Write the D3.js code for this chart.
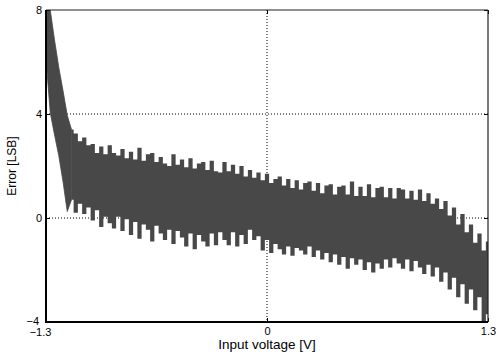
<!DOCTYPE html>
<html>
<head>
<meta charset="utf-8">
<script src="https://cdn.jsdelivr.net/npm/d3@7"></script>
<style>
  body { margin: 0; background: #fff; }
  svg { display: block; font-family: "Liberation Sans", Arial, Helvetica, sans-serif; }
</style>
</head>
<body>
<div id="chart"></div>
<script>
// sample grid of the input voltage sweep [V]
const vStart = -1.3;
const vStep = 0.025;

// upper edge of the error band [LSB]
const upper = [
  8.3, 8.0, 6.85, 5.8, 4.9, 3.95, 3.4, 3.25, 2.95, 3.1,
  2.8, 2.85, 2.5, 2.75, 2.45, 2.8, 2.5, 2.4, 2.65, 2.3,
  2.55, 2.25, 2.7, 2.2, 2.45, 2.5, 2.15, 2.35, 2.1, 2.0,
  2.45, 2.05, 2.25, 1.95, 2.3, 1.9, 2.1, 2.15, 1.85, 2.2,
  1.8, 1.75, 2.15, 1.8, 2.05, 1.7, 2.0, 1.6, 1.85, 1.55,
  1.75, 1.45, 1.7, 1.35, 1.5, 1.6, 1.25, 1.5, 1.15, 1.45,
  1.1, 1.35, 1.4, 1.05, 1.35, 0.95, 1.25, 1.3, 0.9, 1.2,
  1.25, 0.9, 1.4, 0.85, 1.2, 0.85, 1.3, 0.8, 1.15, 1.2,
  0.8, 1.15, 0.75, 1.15, 1.1, 0.75, 1.05, 0.7, 1.1, 0.65,
  0.95, 0.55, 0.75, 0.35, 0.65, 0.1, 0.4, -0.25, 0.15, -0.55,
  -0.25, -0.95, -0.6, -1.25, -0.9
];

// lower edge of the error band [LSB]
const lower = [
  6.1, 4.05, 3.2, 2.4, 1.4, 0.25, 0.7, 0.2, 0.55, 0.15,
  0.4, -0.1, 0.3, -0.35, 0.05, -0.2, -0.4, 0.05, -0.5, -0.05,
  -0.65, -0.15, -0.8, -0.25, -0.45, -0.9, -0.3, -0.6, -0.85, -0.45,
  -1.0, -0.5, -0.75, -1.1, -0.6, -1.2, -0.65, -0.9, -1.1, -0.6,
  -1.05, -0.55, -0.85, -1.05, -0.55, -1.1, -0.65, -1.0, -0.45, -0.85,
  -0.7, -1.25, -0.85, -1.35, -1.0, -1.2, -1.4, -1.1, -1.45, -1.15,
  -1.25, -1.4, -1.1, -1.5, -1.25, -1.6, -1.35, -1.7, -1.4, -1.8,
  -1.5, -1.95, -1.55, -1.8, -1.6, -2.0, -1.7, -2.1, -1.75, -1.95,
  -1.6, -1.9, -1.55, -1.75, -1.95, -1.6, -2.05, -1.65, -1.9, -2.15,
  -1.8, -2.25, -1.9, -2.45, -2.1, -2.75, -2.3, -3.05, -2.55, -3.3,
  -2.75, -3.55, -3.05, -4.0, -3.7
];

// the steep start of the sweep is drawn smooth, the rest as dense strokes
const steepCount = 7;

const xTicks = [-1.3, 0, 1.3];
const yTicks = [-4, 0, 4, 8];
const gridX = [0];
const gridY = [0, 4];

const width = 499;
const height = 356;
const margin = { top: 10, right: 11, bottom: 34, left: 46 };

const data = upper.map((u, i) => ({ v: vStart + i * vStep, hi: u, lo: lower[i] }));

const x = d3.scaleLinear().domain([-1.3, 1.3]).range([margin.left, width - margin.right]);
const y = d3.scaleLinear().domain([-4, 8]).range([height - margin.bottom, margin.top]);

const svg = d3.select('#chart').append('svg')
  .attr('width', width)
  .attr('height', height);

svg.append('defs').append('clipPath')
  .attr('id', 'plot')
  .append('rect')
  .attr('x', x(-1.3))
  .attr('y', y(8))
  .attr('width', x(1.3) - x(-1.3))
  .attr('height', y(-4) - y(8));

// dotted grid
svg.append('g').selectAll('line.gy')
  .data(gridY).join('line')
  .attr('x1', x(-1.3)).attr('x2', x(1.3))
  .attr('y1', d => y(d)).attr('y2', d => y(d))
  .attr('stroke', '#000').attr('stroke-width', 1)
  .attr('stroke-dasharray', '1,2');

svg.append('g').selectAll('line.gx')
  .data(gridX).join('line')
  .attr('x1', d => x(d)).attr('x2', d => x(d))
  .attr('y1', y(8)).attr('y2', y(-4))
  .attr('stroke', '#000').attr('stroke-width', 1)
  .attr('stroke-dasharray', '1,2');

// error band
const band = svg.append('g').attr('clip-path', 'url(#plot)');

const smoothArea = d3.area()
  .x(d => x(d.v))
  .y0(d => y(d.lo))
  .y1(d => y(d.hi));

const stepArea = d3.area()
  .curve(d3.curveStep)
  .x(d => x(d.v))
  .y0(d => y(d.lo))
  .y1(d => y(d.hi));

band.append('path')
  .datum(data.slice(0, steepCount))
  .attr('fill', '#484848')
  .attr('stroke', '#484848')
  .attr('stroke-width', 0.8)
  .attr('d', smoothArea);

band.append('path')
  .datum(data.slice(steepCount - 1))
  .attr('fill', '#484848')
  .attr('d', stepArea);

// axes with inward ticks
const yAxis = svg.append('g')
  .attr('transform', `translate(${margin.left},0)`)
  .call(d3.axisLeft(y).tickValues(yTicks).tickFormat(d3.format('d')).tickSize(-4).tickPadding(4));

const yAxisR = svg.append('g')
  .attr('transform', `translate(${width - margin.right},0)`)
  .call(d3.axisRight(y).tickValues(yTicks).tickFormat('').tickSize(-4));

const xAxis = svg.append('g')
  .attr('transform', `translate(0,${height - margin.bottom})`)
  .call(d3.axisBottom(x).tickValues(xTicks).tickFormat(d => d === 0 ? '0' : d3.format('.1f')(d)).tickSize(-4).tickPadding(5));

const xAxisT = svg.append('g')
  .attr('transform', `translate(0,${margin.top})`)
  .call(d3.axisTop(x).tickValues(xTicks).tickFormat('').tickSize(-4));

[yAxis, yAxisR, xAxis, xAxisT].forEach(g => {
  g.select('.domain').remove();
  g.selectAll('.tick line').attr('stroke', '#000');
  g.selectAll('text').attr('font-size', 11).attr('fill', '#000')
    .attr('font-family', '"Liberation Sans", Arial, sans-serif');
});

xAxis.selectAll('.tick text').filter(d => d === -1.3).attr('dx', -6).attr('dy', '0.8em');
yAxis.selectAll('.tick text').filter(d => d === -4).attr('dy', '0.2em').attr('dx', -3);

// frame: heavy left/bottom, light top/right
svg.append('line')
  .attr('x1', x(-1.3)).attr('x2', x(1.3))
  .attr('y1', y(8)).attr('y2', y(8))
  .attr('stroke', '#222').attr('stroke-width', 1.2);
svg.append('line')
  .attr('x1', x(1.3)).attr('x2', x(1.3))
  .attr('y1', y(8)).attr('y2', y(-4))
  .attr('stroke', '#222').attr('stroke-width', 1.2);
svg.append('line')
  .attr('x1', x(-1.3)).attr('x2', x(-1.3))
  .attr('y1', y(8)).attr('y2', y(-4) + 1)
  .attr('stroke', '#000').attr('stroke-width', 2);
svg.append('line')
  .attr('x1', x(-1.3) - 1).attr('x2', x(1.3))
  .attr('y1', y(-4)).attr('y2', y(-4))
  .attr('stroke', '#000').attr('stroke-width', 2);

// axis titles
svg.append('text')
  .attr('x', x(0))
  .attr('y', 349)
  .attr('text-anchor', 'middle')
  .attr('font-size', 13.5)
  .text('Input voltage [V]');

svg.append('text')
  .attr('transform', `translate(16,${(y(8) + y(-4)) / 2}) rotate(-90)`)
  .attr('text-anchor', 'middle')
  .attr('font-size', 12)
  .text('Error [LSB]');
</script>
</body>
</html>
